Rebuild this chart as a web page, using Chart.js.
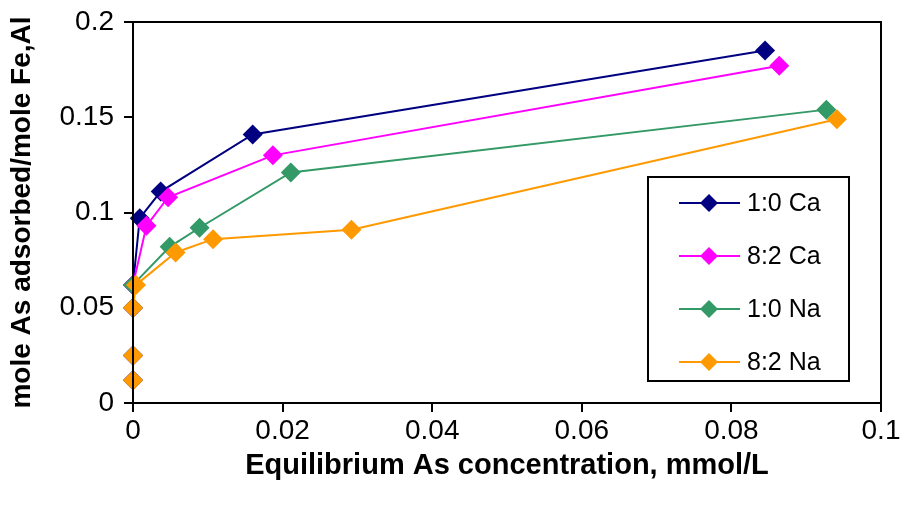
<!DOCTYPE html>
<html lang="en">
<head>
  <meta charset="UTF-8">
  <title>As adsorption isotherms</title>
  <script src="https://cdn.jsdelivr.net/npm/chart.js@4.4.1/dist/chart.umd.min.js"></script>
  <style>
    html, body { margin: 0; padding: 0; background: #fff; }
    #wrap { width: 909px; height: 514px; }
  </style>
</head>
<body>
  <div id="wrap"><canvas id="chart" width="909" height="514"></canvas></div>
  <script>
    // values: x = equilibrium As (mmol/L), y = mole As / mole Fe,Al
    const seriesNames = ['1:0 Ca', '8:2 Ca', '1:0 Na', '8:2 Na'];
    const seriesColors = ['#000080', '#FF00FF', '#339966', '#FF9900'];

    const ca10X = [0, 0, 0, 0, 0.0009, 0.0037, 0.0160, 0.0845];
    const ca10Y = [0.012, 0.025, 0.050, 0.062, 0.097, 0.111, 0.141, 0.185];

    const ca82X = [0, 0, 0, 0, 0.0018, 0.0047, 0.0187, 0.0864];
    const ca82Y = [0.012, 0.025, 0.050, 0.062, 0.093, 0.108, 0.130, 0.177];

    const na10X = [0, 0, 0, 0, 0.0049, 0.0089, 0.0211, 0.0927];
    const na10Y = [0.012, 0.025, 0.050, 0.062, 0.082, 0.092, 0.121, 0.154];

    const na82X = [0, 0, 0, 0.0004, 0.0057, 0.0107, 0.0292, 0.0941];
    const na82Y = [0.012, 0.025, 0.050, 0.062, 0.079, 0.086, 0.091, 0.149];

    const xTicks = [0, 0.02, 0.04, 0.06, 0.08, 0.1];
    const yTicks = [0, 0.05, 0.1, 0.15, 0.2];

    const xs = [ca10X, ca82X, na10X, na82X];
    const ys = [ca10Y, ca82Y, na10Y, na82Y];

    const FONT = 'Liberation Sans, Arial, sans-serif';

    // box round the plot area
    const frame = {
      id: 'frame',
      afterDraw(chart) {
        const a = chart.chartArea, c = chart.ctx;
        c.save();
        c.strokeStyle = '#000';
        c.lineWidth = 2;
        c.strokeRect(a.left, a.top, a.right - a.left, a.bottom - a.top);
        c.restore();
      }
    };

    // legend drawn as a boxed panel inside the plot
    const boxLegend = {
      id: 'boxLegend',
      afterDraw(chart) {
        const c = chart.ctx;
        const x0 = 648, y0 = 177, w = 201, h = 204;
        c.save();
        c.fillStyle = '#fff';
        c.fillRect(x0, y0, w, h);
        c.strokeStyle = '#000';
        c.lineWidth = 2;
        c.strokeRect(x0, y0, w, h);
        c.font = '25px ' + FONT;
        c.textBaseline = 'middle';
        chart.data.datasets.forEach((ds, i) => {
          const y = y0 + 26 + i * 53;
          c.strokeStyle = ds.borderColor;
          c.lineWidth = 2;
          c.beginPath();
          c.moveTo(679, y);
          c.lineTo(740, y);
          c.stroke();
          c.fillStyle = ds.borderColor;
          c.beginPath();
          c.moveTo(709, y - 9);
          c.lineTo(718, y);
          c.lineTo(709, y + 9);
          c.lineTo(700, y);
          c.closePath();
          c.fill();
          c.fillStyle = '#000';
          c.fillText(ds.label, 747, y + 1);
        });
        c.restore();
      }
    };

    const datasets = seriesNames.map((name, i) => ({
      label: name,
      data: xs[i].map((x, j) => ({ x: x, y: ys[i][j] })),
      borderColor: seriesColors[i],
      backgroundColor: seriesColors[i],
      borderWidth: 2,
      pointStyle: 'rectRot',
      pointRadius: 10,
      pointHoverRadius: 10,
      pointBorderWidth: 0,
      tension: 0,
      clip: false,
      order: 4 - i
    }));

    new Chart(document.getElementById('chart').getContext('2d'), {
      type: 'scatter',
      data: { datasets: datasets },
      plugins: [frame, boxLegend],
      options: {
        responsive: false,
        animation: false,
        showLine: true,
        layout: { padding: { top: 22, right: 28, left: 0, bottom: 0 } },
        plugins: { legend: { display: false }, tooltip: { enabled: false } },
        scales: {
          x: {
            type: 'linear', min: 0, max: 0.1,
            afterBuildTicks: s => { s.ticks = xTicks.map(v => ({ value: v })); },
            afterFit: s => { s.height = 111; s.paddingLeft = 0; s.paddingRight = 0; },
            grid: { drawOnChartArea: false, drawTicks: true, tickLength: 9, color: '#000', lineWidth: 2 },
            border: { display: true, color: '#000', width: 2 },
            ticks: { color: '#000', font: { family: FONT, size: 28 }, padding: 2, maxRotation: 0,
                     callback: v => String(v) },
            title: { display: true, text: 'Equilibrium As concentration, mmol/L', color: '#000',
                     font: { family: FONT, size: 29, weight: 'bold' }, padding: { top: 4, bottom: 31 } }
          },
          y: {
            type: 'linear', min: 0, max: 0.2,
            afterBuildTicks: s => { s.ticks = yTicks.map(v => ({ value: v })); },
            afterFit: s => { s.width = 133; s.paddingTop = 0; s.paddingBottom = 0; },
            grid: { drawOnChartArea: false, drawTicks: true, tickLength: 9, color: '#000', lineWidth: 2 },
            border: { display: true, color: '#000', width: 2 },
            ticks: { color: '#000', font: { family: FONT, size: 28 }, padding: 10,
                     callback: v => String(v) },
            title: { display: true, text: 'mole As adsorbed/mole Fe,Al', color: '#000',
                     font: { family: FONT, size: 28, weight: 'bold' }, padding: { top: 5, bottom: 5 } }
          }
        }
      }
    });
  </script>
</body>
</html>
